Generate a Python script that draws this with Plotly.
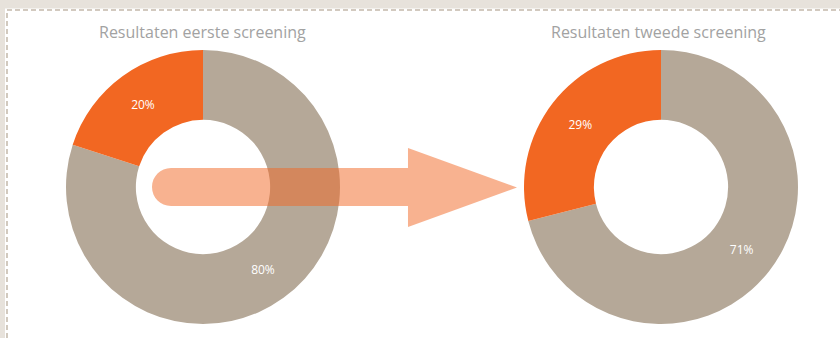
import plotly.graph_objects as go

# Screening results (percent of participants)
categories = ["Overig", "Positief"]
first_screening = [80, 20]
second_screening = [71, 29]
titles = ["Resultaten eerste screening", "Resultaten tweede screening"]

W, H = 840, 338
GREY = "#b5a898"
ORANGE = "#f26722"


def px(x, y):
    """Pixel position -> paper coordinates."""
    return x / W, 1 - y / H


def path_from_px(points_cmds):
    out = []
    for cmd, pts in points_cmds:
        coords = " ".join(f"{px(x, y)[0]:.5f},{px(x, y)[1]:.5f}" for x, y in pts)
        out.append(f"{cmd}{coords}")
    return " ".join(out) + " Z"


fig = go.Figure()

domains = [
    dict(x=[66 / W, 340 / W], y=[14 / H, 288 / H]),
    dict(x=[524 / W, 798 / W], y=[14 / H, 288 / H]),
]

for values, dom in zip([first_screening, second_screening], domains):
    fig.add_trace(go.Pie(
        labels=categories,
        values=values,
        hole=0.49,
        sort=False,
        direction="clockwise",
        rotation=0,
        domain=dom,
        marker=dict(colors=[GREY, ORANGE], line=dict(width=0)),
        textinfo="percent",
        textposition="inside",
        insidetextorientation="horizontal",
        textfont=dict(family="Open Sans, sans-serif", size=12, color="white"),
        hoverinfo="label+percent",
        showlegend=False,
    ))

# Titles above each donut
for title, cx in zip(titles, [202, 658]):
    x, y = px(cx, 32)
    fig.add_annotation(
        text=title, x=x, y=y, xref="paper", yref="paper",
        showarrow=False, xanchor="center", yanchor="middle",
        font=dict(family="Open Sans, sans-serif", size=16, color="#a2a2a2"),
    )

shapes = []
# white panel on beige page
x0, y1 = px(5, 8.5)
shapes.append(dict(type="rect", xref="paper", yref="paper",
                   x0=x0, x1=1, y0=0, y1=y1,
                   fillcolor="white", line=dict(width=0), layer="below"))
# dashed frame along left and top edges
shapes.append(dict(type="path", xref="paper", yref="paper",
                   path=" ".join([
                       "M{:.5f},{:.5f}".format(*px(7, H)),
                       "L{:.5f},{:.5f}".format(*px(7, 10)),
                       "L{:.5f},{:.5f}".format(*px(W, 10)),
                   ]),
                   line=dict(color="#c3b8aa", width=1.5, dash="5px,3px"),
                   layer="below"))

# translucent arrow from the first donut to the second
k = 0.5523 * 19
arrow = path_from_px([
    ("M", [(408, 168)]),
    ("L", [(171, 168)]),
    ("C", [(171 - k, 168), (152, 187 - k), (152, 187)]),
    ("C", [(152, 187 + k), (171 - k, 206), (171, 206)]),
    ("L", [(408, 206)]),
    ("L", [(408, 227)]),
    ("L", [(517, 187.5)]),
    ("L", [(408, 148)]),
    ("L", [(408, 168)]),
])
shapes.append(dict(type="path", xref="paper", yref="paper", path=arrow,
                   fillcolor="rgba(242,101,34,0.5)", line=dict(width=0),
                   layer="above"))

fig.update_layout(
    width=W, height=H,
    margin=dict(l=0, r=0, t=0, b=0),
    paper_bgcolor="#e7e2db",
    plot_bgcolor="rgba(0,0,0,0)",
    shapes=shapes,
)

fig.write_html("out.html")
